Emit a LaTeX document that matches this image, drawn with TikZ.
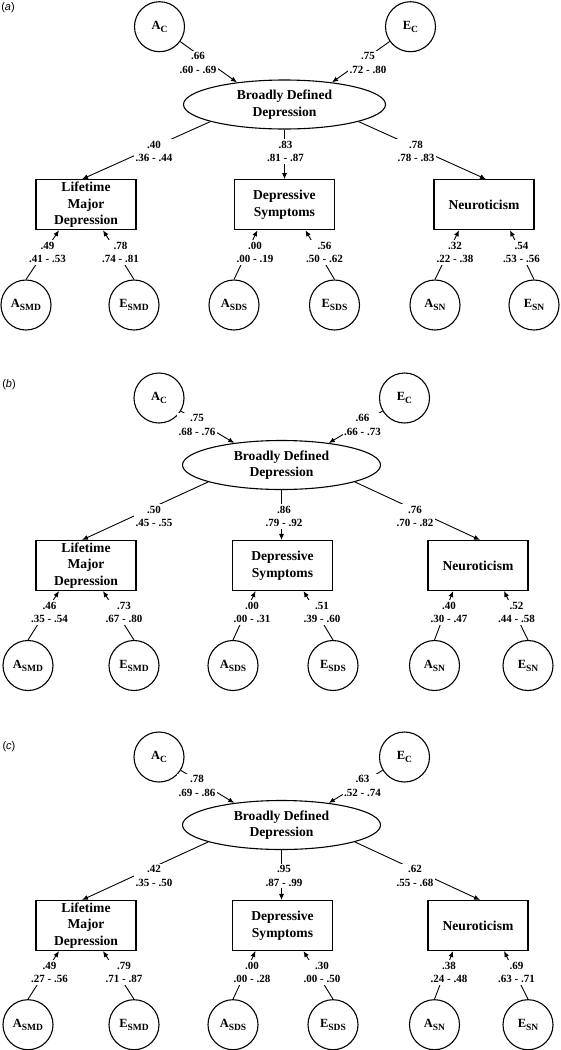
\documentclass[tikz,border=0pt]{standalone}
\usepackage{fontspec}
\setmainfont{Liberation Serif}
\newfontfamily\tagfont{Liberation Sans}
\usetikzlibrary{arrows.meta,shapes.geometric}
\newcommand\lv[2]{#1\raisebox{-3pt}{\fontsize{9.5}{10}\selectfont #2}}
\tikzset{
 lat/.style={circle, draw, line width=1.1pt, minimum size=50pt, inner sep=0pt, font=\fontsize{12.5}{14}\selectfont\bfseries},
 fac/.style={ellipse, draw, line width=1.1pt, minimum height=49pt, inner sep=0pt, align=center, font=\fontsize{13.6}{16.5}\selectfont\bfseries},
 obs/.style={rectangle, draw, line width=1.1pt, minimum width=100pt, minimum height=50pt, inner sep=1pt, align=center, font=\fontsize{13.6}{16.5}\selectfont\bfseries},
 arr/.style={line width=0.9pt, -{Latex[length=6pt,width=5pt]}},
 lbl/.style={fill=white, inner xsep=1.5pt, inner ysep=2pt, align=center, font=\fontsize{11}{13.5}\selectfont\bfseries},
 ptag/.style={inner sep=0pt, font=\tagfont\fontsize{11}{13}\selectfont},
}
\newcommand\semPanel[1]{%
 \node[lat] (#1AC) at (\pxAC,\pyA) {\lv{A}{C}};
 \node[lat] (#1EC) at (\pxEC,\pyA) {\lv{E}{C}};
 \node[fac, minimum width=\pwD] (#1D) at (\pxD,\pyD) {Broadly Defined\\Depression};
 \node[obs] (#1L) at (\pxKL,\pyK) {Lifetime\\Major\\Depression};
 \node[obs] (#1M) at (\pxKM,\pyK) {Depressive\\Symptoms};
 \node[obs] (#1R) at (\pxKR,\pyK) {Neuroticism};
 \node[lat] (#1Aa) at (\pxCa,\pyC) {\lv{A}{SMD}};
 \node[lat] (#1Ea) at (\pxCb,\pyC) {\lv{E}{SMD}};
 \node[lat] (#1Ab) at (\pxCc,\pyC) {\lv{A}{SDS}};
 \node[lat] (#1Eb) at (\pxCd,\pyC) {\lv{E}{SDS}};
 \node[lat] (#1Ac) at (\pxCe,\pyC) {\lv{A}{SN}};
 \node[lat] (#1Ec) at (\pxCf,\pyC) {\lv{E}{SN}};
 \draw[arr] (#1AC) -- (#1D.155);
 \draw[arr] (#1EC) -- (#1D.25);
 \draw[arr] (#1D.193) -- ([xshift=-4pt]#1L.north);
 \draw[arr] (#1D.south) -- (#1D.south |- #1M.north);
 \draw[arr] (#1D.347) -- ([xshift=2pt]#1R.north);
 \draw[arr] (#1Aa.north) -- ([xshift=-27pt]#1L.south);
 \draw[arr] (#1Ea.north) -- ([xshift=17pt]#1L.south);
 \draw[arr] (#1Ab.north) -- ([xshift=-27pt]#1M.south);
 \draw[arr] (#1Eb.north) -- ([xshift=21pt]#1M.south);
 \draw[arr] (#1Ac.north) -- ([xshift=-25pt]#1R.south);
 \draw[arr] (#1Ec.north) -- ([xshift=26pt]#1R.south);
 \node[lbl] (#1lTa) at (\pxTa,\pyT) {\ptTa};
 \node[lbl] (#1lTb) at (\pxTb,\pyT) {\ptTb};
 \node[lbl] (#1lMa) at (\pxMa,\pyM) {\ptMa};
 \node[lbl] (#1lMb) at (\pxMb,\pyM) {\ptMb};
 \node[lbl] (#1lMc) at (\pxMc,\pyM) {\ptMc};
 \node[lbl] (#1lLa) at (\pxLa,\pyL) {\ptLa};
 \node[lbl] (#1lLb) at (\pxLb,\pyL) {\ptLb};
 \node[lbl] (#1lLc) at (\pxLc,\pyL) {\ptLc};
 \node[lbl] (#1lLd) at (\pxLd,\pyL) {\ptLd};
 \node[lbl] (#1lLe) at (\pxLe,\pyL) {\ptLe};
 \node[lbl] (#1lLf) at (\pxLf,\pyL) {\ptLf};
}
\begin{document}
\begin{tikzpicture}[x=1pt,y=-1pt]
\useasboundingbox (0,0) rectangle (561,1050);
% ---------- panel (a)
\node[ptag] (tagA) at (8,7.5) {(\textit{a})};
\def\pyA{26.7}\def\pyD{104.5}\def\pyK{204.7}\def\pyC{305}
\def\pyT{63}\def\pyM{151.5}\def\pyL{252.5}
\def\pxAC{159.5}\def\pxEC{410.5}\def\pxD{284.5}\def\pwD{202pt}
\def\pxKL{86}\def\pxKM{284.4}\def\pxKR{484}
\def\pxCa{26}\def\pxCb{134}\def\pxCc{234}\def\pxCd{334.5}\def\pxCe{435}\def\pxCf{534}
\def\pxTa{198}\def\pxTb{368}
\def\pxMa{154}\def\pxMb{285.5}\def\pxMc{416}
\def\pxLa{47.5}\def\pxLb{120.5}\def\pxLc{255}\def\pxLd{324.5}\def\pxLe{455}\def\pxLf{521.5}
\def\ptTa{.66\\.60 - .69}\def\ptTb{.75\\.72 - .80}
\def\ptMa{.40\\.36 - .44}\def\ptMb{.83\\.81 - .87}\def\ptMc{.78\\.78 - .83}
\def\ptLa{.49\\.41 - .53}\def\ptLb{.78\\.74 - .81}\def\ptLc{.00\\.00 - .19}
\def\ptLd{.56\\.50 - .62}\def\ptLe{.32\\.22 - .38}\def\ptLf{.54\\.53 - .56}
\semPanel{a}
% ---------- panel (b)
\node[ptag] (tagB) at (9,385) {(\textit{b})};
\def\pyA{398}\def\pyD{465}\def\pyK{565.5}\def\pyC{665.5}
\def\pyT{425}\def\pyM{516.5}\def\pyL{612.5}
\def\pxAC{159}\def\pxEC{404.5}\def\pxD{281.5}\def\pwD{198pt}
\def\pxKL{86}\def\pxKM{282.5}\def\pxKR{478}
\def\pxCa{28}\def\pxCb{134}\def\pxCc{233}\def\pxCd{333}\def\pxCe{434.5}\def\pxCf{528}
\def\pxTa{197}\def\pxTb{362.5}
\def\pxMa{154}\def\pxMb{284}\def\pxMc{415}
\def\pxLa{49.5}\def\pxLb{124}\def\pxLc{252}\def\pxLd{322}\def\pxLe{449}\def\pxLf{516.5}
\def\ptTa{.75\\.68 - .76}\def\ptTb{.66\\.66 - .73}
\def\ptMa{.50\\.45 - .55}\def\ptMb{.86\\.79 - .92}\def\ptMc{.76\\.70 - .82}
\def\ptLa{.46\\.35 - .54}\def\ptLb{.73\\.67 - .80}\def\ptLc{.00\\.00 - .31}
\def\ptLd{.51\\.39 - .60}\def\ptLe{.40\\.30 - .47}\def\ptLf{.52\\.44 - .58}
\semPanel{b}
% ---------- panel (c)
\node[ptag] (tagC) at (9,746.7) {(\textit{c})};
\def\pyA{757}\def\pyD{825}\def\pyK{925.5}\def\pyC{1024.7}
\def\pyT{786}\def\pyM{876}\def\pyL{972.3}
\def\ptTa{.78\\.69 - .86}\def\ptTb{.63\\.52 - .74}
\def\ptMa{.42\\.35 - .50}\def\ptMb{.95\\.87 - .99}\def\ptMc{.62\\.55 - .68}
\def\ptLa{.49\\.27 - .56}\def\ptLb{.79\\.71 - .87}\def\ptLc{.00\\.00 - .28}
\def\ptLd{.30\\.00 - .50}\def\ptLe{.38\\.24 - .48}\def\ptLf{.69\\.63 - .71}
\semPanel{c}
\end{tikzpicture}
\end{document}
